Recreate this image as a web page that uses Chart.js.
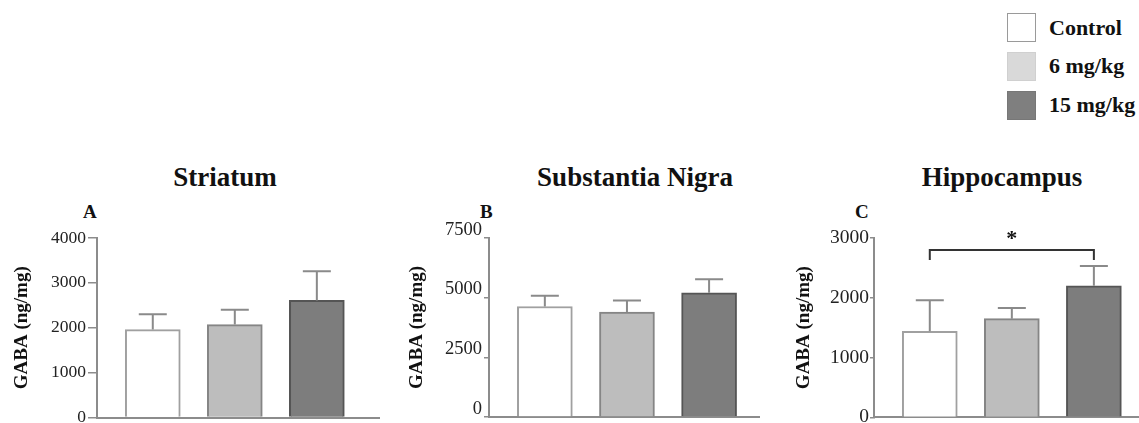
<!DOCTYPE html>
<html>
<head>
<meta charset="utf-8">
<script src="https://cdn.jsdelivr.net/npm/chart.js@4.4.0/dist/chart.umd.min.js"></script>
<style>
  body { margin: 0; width: 1139px; height: 423px; overflow: hidden; background: #fff; position: relative;
         font-family: "Liberation Serif", "Times New Roman", serif; color: #111; }
  canvas { position: absolute; top: 190px; }
  .title { position: absolute; width: 400px; text-align: center; font-weight: bold; font-size: 27px; line-height: 27px; top: 164px; }
  .letter { position: absolute; font-weight: bold; font-size: 19px; line-height: 19px; top: 202px; }
  .leg-box { position: absolute; left: 1007px; width: 27px; height: 27px; border: 1.5px solid #9a9a9a; }
  .leg-text { position: absolute; left: 1049px; font-weight: bold; font-size: 22px; line-height: 22px; }
</style>
</head>
<body>
<div class="title" style="left:25px">Striatum</div>
<div class="title" style="left:435px">Substantia Nigra</div>
<div class="title" style="left:802px">Hippocampus</div>
<div class="letter" style="left:83px">A</div>
<div class="letter" style="left:480px">B</div>
<div class="letter" style="left:855px">C</div>

<div class="leg-box" style="top:13px;background:#ffffff"></div>
<div class="leg-text" style="top:17px">Control</div>
<div class="leg-box" style="top:52px;background:#d9d9d9;border-color:#d0d0d0"></div>
<div class="leg-text" style="top:55px">6 mg/kg</div>
<div class="leg-box" style="top:91px;background:#7f7f7f;border-color:#777"></div>
<div class="leg-text" style="top:94px">15 mg/kg</div>

<canvas id="chartA" width="380" height="240" style="left:0px"></canvas>
<canvas id="chartB" width="380" height="240" style="left:380px"></canvas>
<canvas id="chartC" width="379" height="240" style="left:760px"></canvas>

<script>
// データ
var groups = ["Control", "6 mg/kg", "15 mg/kg"];
var striatumMean = [1960, 2070, 2610];
var striatumErr = [340, 330, 650];
var nigraMean = [4630, 4390, 5200];
var nigraErr = [450, 490, 570];
var hippoMean = [1440, 1650, 2200];
var hippoErr = [520, 180, 330];
var striatumTicks = [0, 1000, 2000, 3000, 4000];
var nigraTicks = [0, 2500, 5000, 7500];
var hippoTicks = [0, 1000, 2000, 3000];
// 有意差 (Control vs 15 mg/kg)
var sigPair = [0, 2];
var sigLevel = [2800, 2630];

var fillColors = ["#ffffff", "#bdbdbd", "#7d7d7d"];
var borderColors = ["#a0a0a0", "#858585", "#555555"];
var serif = "'Liberation Serif', 'Times New Roman', serif";

//エラーバー
var errorBarPlugin = {
  id: "errorBars",
  afterDatasetsDraw: function (chart) {
    var ctx = chart.ctx;
    var ds = chart.data.datasets[0];
    var meta = chart.getDatasetMeta(0);
    var yScale = chart.scales.y;
    ctx.save();
    ctx.strokeStyle = "#8a8a8a";
    ctx.lineWidth = 2;
    meta.data.forEach(function (bar, i) {
      var top = yScale.getPixelForValue(ds.data[i].y + ds.errors[i]);
      ctx.beginPath();
      ctx.moveTo(bar.x, bar.y);
      ctx.lineTo(bar.x, top);
      ctx.moveTo(bar.x - 14, top);
      ctx.lineTo(bar.x + 14, top);
      ctx.stroke();
    });
    ctx.restore();
  },
};

//ブラケットと星印
var sigPlugin = {
  id: "sigBracket",
  afterDatasetsDraw: function (chart) {
    var ctx = chart.ctx;
    var x1 = chart.scales.x.getPixelForValue(sigPair[0]);
    var x2 = chart.scales.x.getPixelForValue(sigPair[1]);
    var y1 = chart.scales.y.getPixelForValue(sigLevel[0]);
    var y2 = chart.scales.y.getPixelForValue(sigLevel[1]);
    ctx.save();
    ctx.strokeStyle = "#333";
    ctx.lineWidth = 2;
    ctx.beginPath();
    ctx.moveTo(x1, y2);
    ctx.lineTo(x1, y1);
    ctx.lineTo(x2, y1);
    ctx.lineTo(x2, y2);
    ctx.stroke();
    ctx.fillStyle = "#111";
    ctx.font = "bold 22px " + serif;
    ctx.textAlign = "center";
    ctx.textBaseline = "alphabetic";
    ctx.fillText("*", (x1 + x2) / 2, y1 - 5);
    ctx.restore();
  },
};

function drawPanel(id, means, errs, ticks, cfg, plugins) {
  var points = means.map(function (v, i) {
    return { x: i, y: v };
  });
  return new Chart(document.getElementById(id), {
    type: "bar",
    data: {
      labels: groups,
      datasets: [
        {
          data: points,
          errors: errs,
          backgroundColor: fillColors,
          borderColor: borderColors,
          borderWidth: 2,
          borderSkipped: "bottom",
          barThickness: 55,
        },
      ],
    },
    options: {
      responsive: false,
      animation: false,
      layout: { padding: { left: cfg.padLeft, top: 48, bottom: 10, right: 0 } },
      plugins: { legend: { display: false }, tooltip: { enabled: false } },
      scales: {
        x: {
          type: "linear",
          offset: false,
          min: -0.68,
          max: cfg.xMax,
          ticks: { display: false },
          grid: { display: false, offset: false },
          border: { display: true, color: "#8c8c8c", width: 2 },
          afterFit: function (scale) {
            scale.height = 0;
          },
        },
        y: {
          min: 0,
          max: ticks[ticks.length - 1],
          afterBuildTicks: function (scale) {
            scale.ticks = ticks.map(function (v) {
              return { value: v };
            });
          },
          ticks: {
            color: "#222",
            font: { family: serif, size: cfg.tickSize },
            padding: cfg.tickPad,
            labelOffset: cfg.labelOffset,
            callback: function (v) {
              return String(v);
            },
          },
          grid: { drawOnChartArea: false, color: "#8c8c8c", tickLength: cfg.tickLen, lineWidth: 1.5 },
          border: { color: "#8c8c8c", width: 2 },
          title: {
            display: true,
            text: "GABA (ng/mg)",
            color: "#111",
            font: { family: serif, size: 19, weight: "bold" },
            padding: { top: 4, bottom: 4 },
          },
          afterFit: function (scale) {
            scale.width = cfg.axisWidth;
          },
        },
      },
    },
    plugins: plugins,
  });
}

drawPanel("chartA", striatumMean, striatumErr, striatumTicks,
  { padLeft: 7, axisWidth: 90, tickLen: 9, tickPad: 2, tickSize: 17.5, labelOffset: 0, xMax: 2.77 }, [errorBarPlugin]);
drawPanel("chartB", nigraMean, nigraErr, nigraTicks,
  { padLeft: 22, axisWidth: 87, tickLen: 5, tickPad: 2, tickSize: 18.5, labelOffset: -8, xMax: 2.62 }, [errorBarPlugin]);
drawPanel("chartC", hippoMean, hippoErr, hippoTicks,
  { padLeft: 29, axisWidth: 85, tickLen: 4, tickPad: 1, tickSize: 19.5, labelOffset: 0, xMax: 2.55 }, [errorBarPlugin, sigPlugin]);
</script>
</body>
</html>
